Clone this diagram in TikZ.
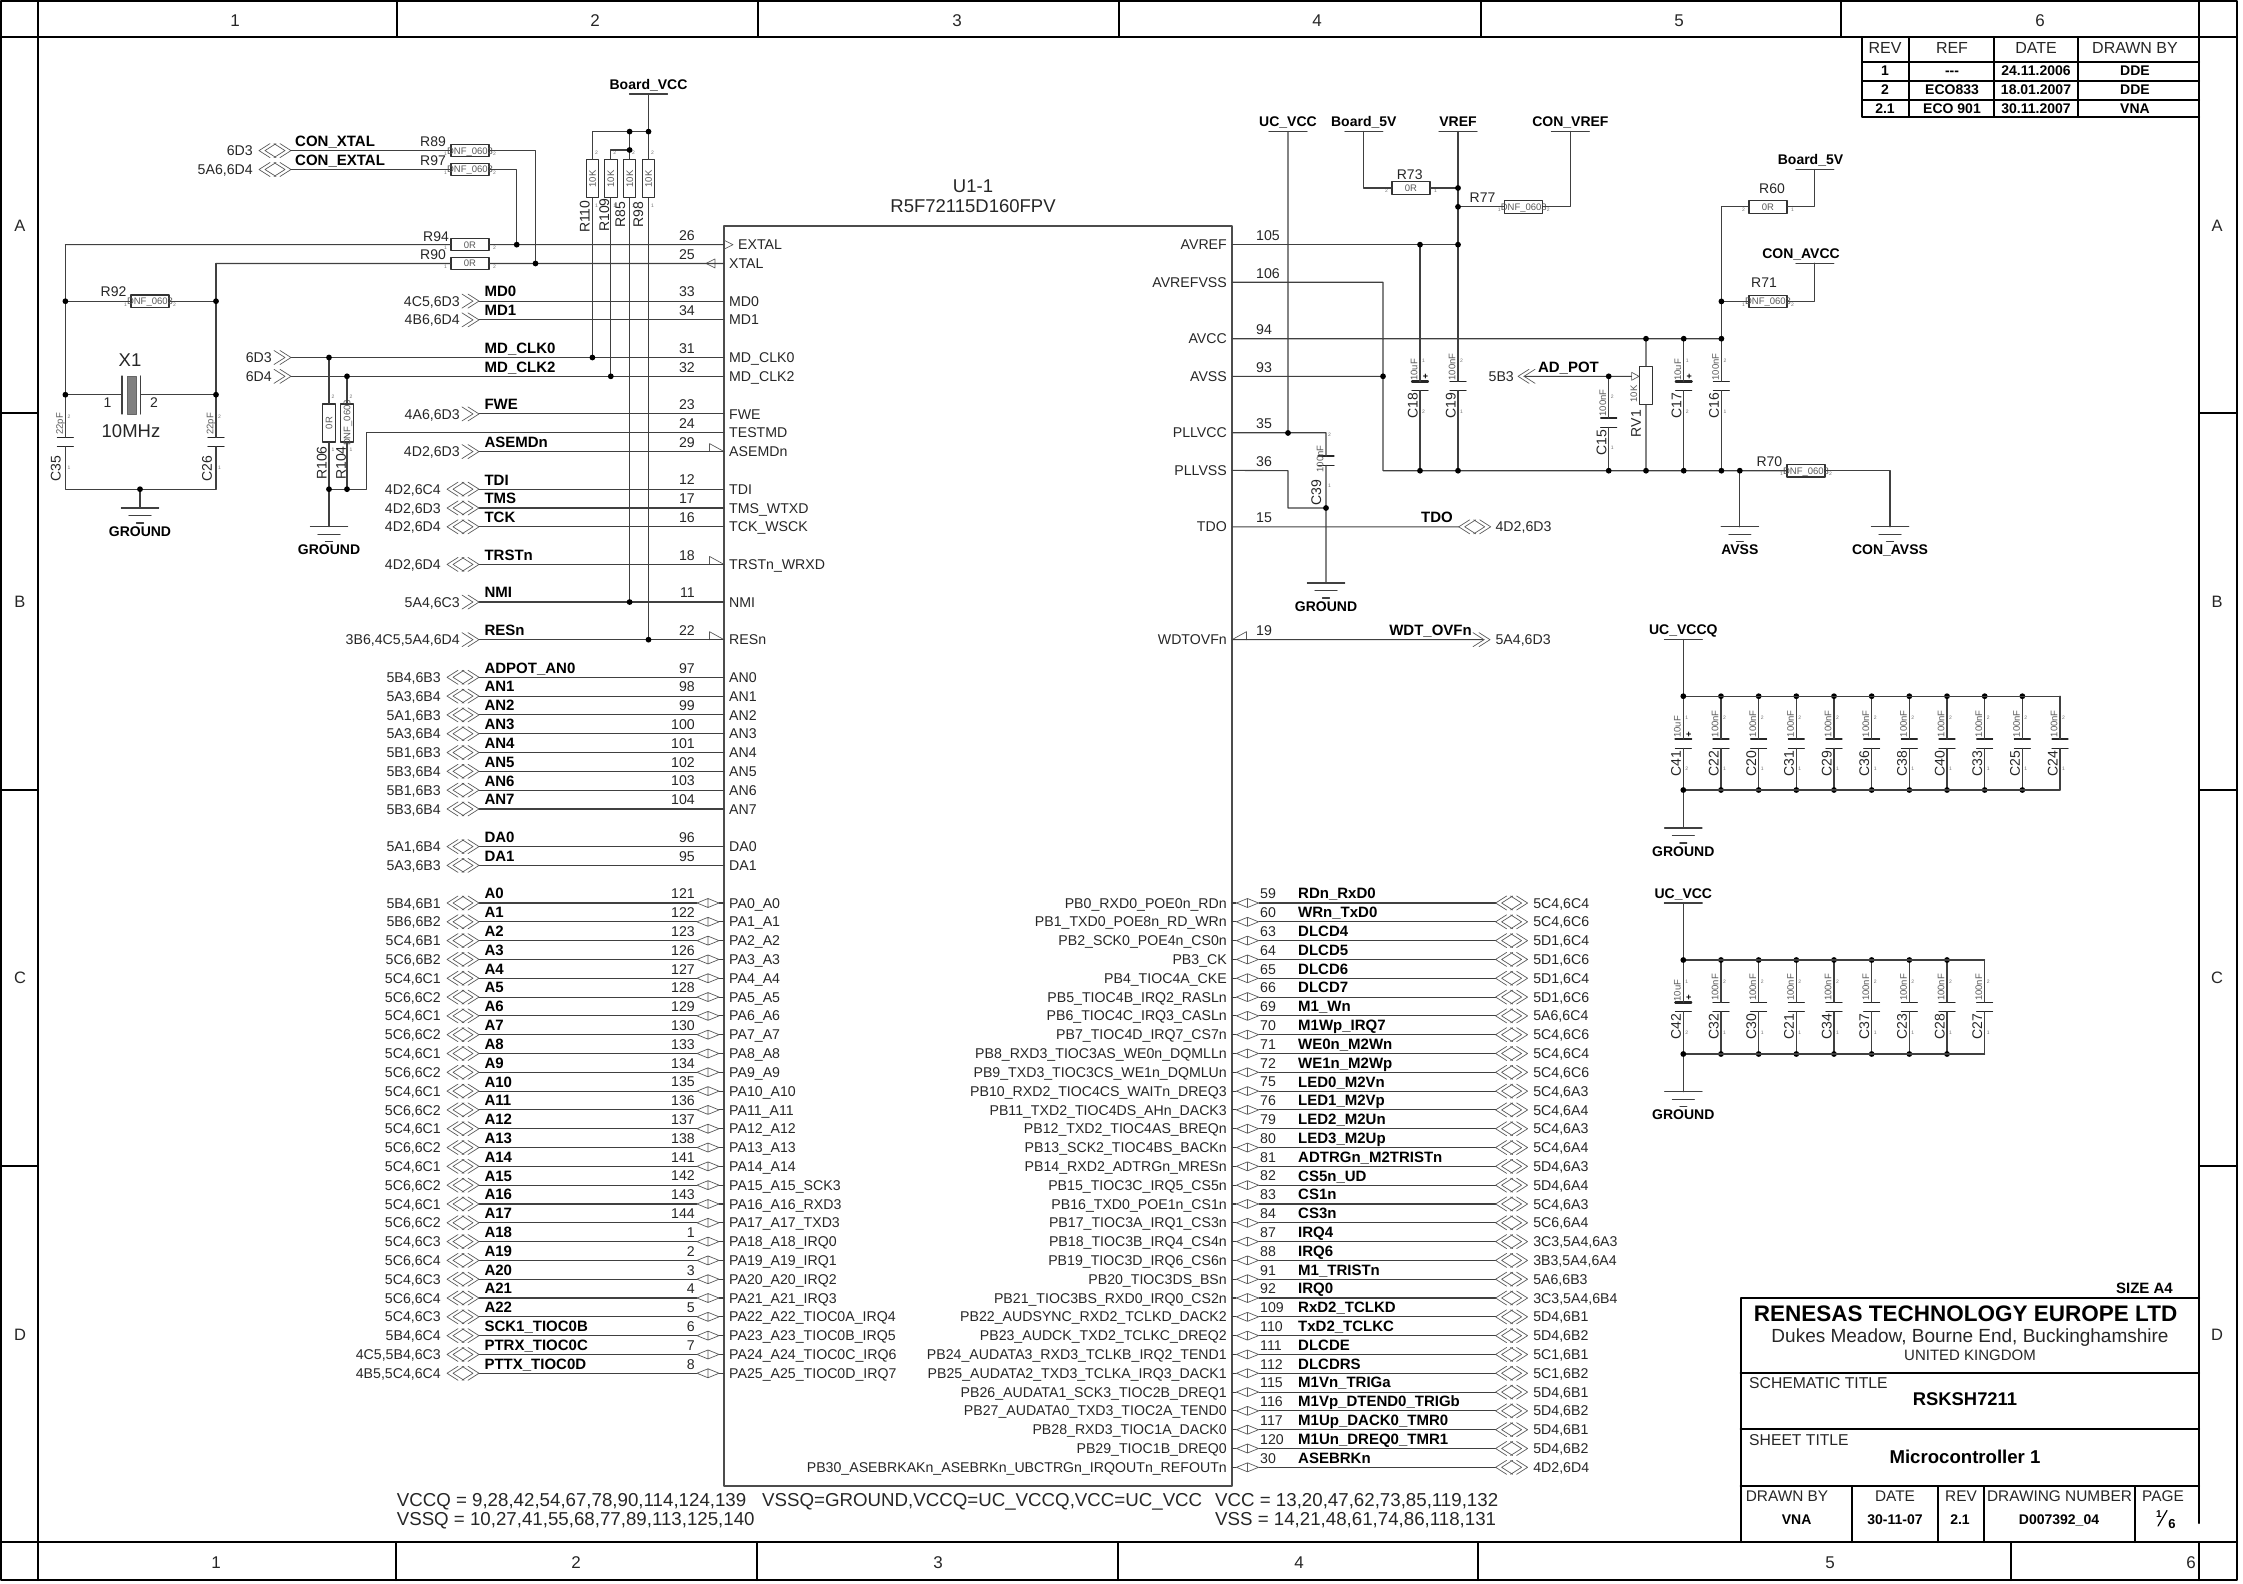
\documentclass[tikz,border=0pt]{standalone}
\usepackage{fontspec}
\setmainfont{Liberation Sans}
\newcommand{\fs}[1]{\fontsize{#1}{#1}\selectfont}
\tikzset{
	wire/.style={line width=1.1pt,draw=black!75},
	frame/.style={line width=2pt,draw=black},
	symb/.style={line width=.7pt,draw=black!65},
	tx/.style={inner sep=0pt,font=\fs{#1},text height=#1*0.72pt,text depth=0pt,text=black!85},
	txb/.style={tx=#1,font=\bfseries\fs{#1},text=black},
	pintxt/.style={tx=14.15},
	netlbl/.style={txb=15},
	pwrlbl/.style={txb=14},
	valtxt/.style={tx=9.5,text=black!65},
	tinytxt/.style={tx=5,text=black!55},
	resb/.style={draw=black!80,line width=1.1pt,rectangle,minimum width=38,minimum height=12.5,inner sep=0pt},
	pics/portio/.style={code={\draw[symb] (-21,-7)--(-32,0)--(-21,7) (-15,-7)--(-26,0)--(-15,7) (-11,-7)--(0,0)--(-11,7) (-17,-7)--(-6,0)--(-17,7);}},
	pics/portin/.style={code={\draw[symb] (-11,-7)--(0,0)--(-11,7) (-17,-7)--(-6,0)--(-17,7);}},
	pics/bimark/.style={code={\draw[symb] (0,-4.5)--(-11,0)--(0,4.5)--cycle (0,-4.5)--(11,0)--(0,4.5)--cycle;}},
	pics/wedge/.style={code={\draw[symb] (-14.5,0)--(-14.5,-8)--(0,0);}},
	pics/tin/.style={code={\draw[symb] (0,-4.5)--(9,0)--(0,4.5);}},
	pics/tout/.style={code={\draw[symb] (-9,-4.5)--(-18,0)--(-9,4.5)--cycle;}},
}
\newcommand{\toppin}{2}
\newcommand{\botpin}{1}
\newcommand{\respa}{1}
\newcommand{\respb}{2}
\newcommand{\pinleft}[3]{\pgfmathsetmacro\py{244.65+18.81*#1}
	\coordinate (c#2) at (724,\py);
	\node[pintxt,anchor=west] (t#2) at (729,\py) {#3};
	\node[pintxt,anchor=east] (n#2) at (695,\py-9.3) {#2};}
\newcommand{\pinright}[4]{\pgfmathsetmacro\py{244.65+18.81*#1}
	\coordinate (c#2) at (1232,\py);
	\node[pintxt,anchor=east] (t#2) at (1227,\py) {#3};
	\node[pintxt,anchor=west] (n#2) at (#4,\py-9.3) {#2};}
\newcommand{\resh}[6]{\node[resb] (#1) at (#2,#3) {};
	\node[valtxt] (#1v) at (#1) {#4};
	\node[tx=14] (#1n) at (#5,#6) {#1};
	\node[tinytxt] (#1pa) at ([xshift=-5pt,yshift=-3pt]#1.west) {\respa};
	\node[tinytxt] (#1pb) at ([xshift=5pt,yshift=-3pt]#1.east) {\respb};}
\newcommand{\resv}[6]{\node[resb,rotate=90] (#1) at (#2,#3) {};
	\node[valtxt,rotate=90] (#1v) at (#1) {#4};
	\node[tx=14,rotate=90] (#1n) at (#5,#6) {#1};
	\node[tinytxt] (#1pa) at ([xshift=4pt,yshift=-7pt]#1.west) {1};
	\node[tinytxt] (#1pb) at ([xshift=4pt,yshift=7pt]#1.east) {2};}
\newcommand{\capv}[7][7.5]{\coordinate (#2a) at (#3,#4);
	\coordinate (#2b) at (#3,#4+9.3);
	\draw[symb,draw=black!85,line width=1.1pt] (#3-8,#4)--(#3+8,#4) (#3-8,#4+9.3)--(#3+8,#4+9.3);
	\node[valtxt,rotate=90] (#2v) at (#3-6,#6) {#5};
	\node[tx=14,rotate=90] (#2n) at (#3-#1,#7) {#2};
	\node[tinytxt] (#2pa) at (#3+3.5,#4-21) {\toppin};
	\node[tinytxt] (#2pb) at (#3+3.5,#4+30) {\botpin};}
\newcommand{\capp}[6]{{\def\toppin{1}\def\botpin{2}\capv{#1}{#2}{#3}{#4}{#5}{#6}}
	\draw[line width=2.2pt,draw=black!85] (#2-8,#3)--(#2+8,#3);
	\node[txb=9] (#1plus) at (#2+5.5,#3-5) {+};}
\newcommand{\gnd}[4]{\coordinate (#1) at (#2,#3);
	\draw[wire] (#2-18.7,#3)--(#2+18.7,#3) (#2-11,#3+7.5)--(#2+11,#3+7.5) (#2-3.5,#3+15)--(#2+3.5,#3+15);
	\node[pwrlbl] (#1t) at (#2,#3+23) {#4};}
\newcommand{\pwr}[5]{\coordinate (#1) at (#2,#3);
	\draw[wire] (#2-19,#3)--(#2+19,#3);
	\node[pwrlbl] (#1t) at (#5,#3-9.5) {#4};}
\begin{document}
\catcode`\_=12
\begin{tikzpicture}[x=1pt,y=-1pt,line join=round,line cap=round]
	\useasboundingbox (0,0) rectangle (2243,1584);
	% sheet frame
	\draw[frame] (1,1) rectangle (2237,1580);
	\draw[frame] (38,1)--(38,1580) (1,37)--(2237,37) (1,1542)--(2237,1542) (2199,1)--(2199,1523) (2199,1542)--(2199,1580);
	\foreach \cx in {397,758,1119,1481,1841} \draw[frame] (\cx,1)--(\cx,37);
	\foreach \cx in {396,757,1118,1478,2011} \draw[frame] (\cx,1542)--(\cx,1580);
	\foreach \cy in {413,790,1166} \draw[frame] (1,\cy)--(38,\cy) (2199,\cy)--(2237,\cy);
	\foreach \cx/\ct in {235/1,595/2,957/3,1317/4,1679/5,2040/6} \node[tx=17] (top\ct) at (\cx,20) {\ct};
	\foreach \cx/\ct in {216/1,576/2,938/3,1299/4,1830/5,2191/6} \node[tx=17] (bot\ct) at (\cx,1562) {\ct};
	\foreach \cy/\ct in {226/A,602/B,978/C,1335/D} {\node[tx=16.5] (le\ct) at (20,\cy) {\ct};\node[tx=16.5] (ri\ct) at (2217,\cy) {\ct};}
	% revision table
	\draw[frame] (1862,37)--(1862,117)--(2199,117) (1862,62)--(2199,62) (1862,81)--(2199,81) (1862,100)--(2199,100);
	\foreach \cx in {1909,1994,2078} \draw[frame] (\cx,37)--(\cx,117);
	\foreach \cx/\ct [count=\ci] in {1885/REV,1952/REF,2036/DATE,2135/DRAWN BY} \node[tx=16] (rev\ci) at (\cx,48) {\ct};
	\foreach \cy/\ca/\cb/\cc/\cd [count=\ci] in {70/1/-{}-{}-/24.11.2006/DDE,89/2/ECO833/18.01.2007/DDE,108/2.1/ECO 901/30.11.2007/VNA} {
		\node[txb=14] (ra\ci) at (1885,\cy) {\ca};\node[txb=14] (rb\ci) at (1952,\cy) {\cb};\node[txb=14] (rc\ci) at (2036,\cy) {\cc};\node[txb=14] (rd\ci) at (2135,\cy) {\cd};}
	% title block
	\draw[frame] (1740.5,1542)--(1740.5,1298)--(2199,1298) (1740.5,1373)--(2199,1373) (1740.5,1429)--(2199,1429) (1740.5,1486)--(2199,1486);
	\foreach \cx in {1852,1937.5,1984,2135} \draw[frame] (\cx,1486)--(\cx,1542);
	\node[txb=15,anchor=east] (tbsize) at (2173,1288) {SIZE A4};
	\node[txb=22.5] (tbco) at (1965.6,1313) {RENESAS TECHNOLOGY EUROPE LTD};
	\node[tx=19] (tbad) at (1970,1336) {Dukes Meadow, Bourne End, Buckinghamshire};
	\node[tx=15] (tbuk) at (1970,1355) {UNITED KINGDOM};
	\node[tx=15.7,anchor=west] (tbst) at (1749,1383) {SCHEMATIC TITLE};
	\node[txb=18.4] (tbsv) at (1965,1399) {RSKSH7211};
	\node[tx=15.7,anchor=west] (tbsh) at (1749,1440) {SHEET TITLE};
	\node[txb=18.6] (tbmc) at (1965,1457) {Microcontroller 1};
	\foreach \cx/\ca [count=\ci] in {1787/DRAWN BY,1895/DATE,1961/REV,2059.5/DRAWING NUMBER,2163/PAGE} \node[tx=15.4] (tbh\ci) at (\cx,1496) {\ca};
	\foreach \cx/\ca [count=\ci] in {1796.6/VNA,1895/30-11-07,1960/2.1,2059/D007392_04} \node[txb=14] (tbv\ci) at (\cx,1519) {\ca};
	\node[txb=10] (pgn) at (2159,1514) {1};\node[txb=13] (pgd) at (2172,1524) {6};
	\draw[line width=1.2pt] (2158,1526)--(2167,1510.5);
	% device
	\node[draw=black!70,line width=1.2pt,minimum width=508,minimum height=1260,inner sep=0pt] (U1) at (978,856) {};
	\node[tx=18.5] (U1a) at (973,186) {U1-1};
	\node[tx=18.5] (U1b) at (973,206) {R5F72115D160FPV};
	\foreach \pk/\pnum/\plab in {1/25/XTAL,3/33/MD0,4/34/MD1,6/31/MD_CLK0,7/32/MD_CLK2,9/23/FWE,10/24/TESTMD,11/29/ASEMDn,13/12/TDI,14/17/TMS_WTXD,15/16/TCK_WSCK,17/18/TRSTn_WRXD,19/11/NMI,21/22/RESn,23/97/AN0,24/98/AN1,25/99/AN2,26/100/AN3,27/101/AN4,28/102/AN5,29/103/AN6,30/104/AN7,32/96/DA0,33/95/DA1} \pinleft{\pk}{\pnum}{\plab};
	\pinleft{0}{26}{}
	\node[pintxt,anchor=west] (t26x) at (738,244.65) {EXTAL};
	\foreach \pk/\pnum/\plab in {0/105/AVREF,2/106/AVREFVSS,5/94/AVCC,7/93/AVSS,10/35/PLLVCC,12/36/PLLVSS,15/15/TDO,21/19/WDTOVFn} \pinright{\pk}{\pnum}{\plab}{1256};
	\pic at (c26) {tin};\pic at (c25) {tout};\pic at (c29) {wedge};\pic at (c18) {wedge};\pic at (c22) {wedge};\pic[xscale=-1] at (c19) {wedge};
	\coordinate (xP) at (479,0);\coordinate (xA) at (697,0);\coordinate (xB) at (719,0);\coordinate (xC) at (1495.6,0);\coordinate (xD) at (1259,0);\coordinate (xE) at (1236,0);
	% left nets
	\foreach \pnum/\pnet/\pref in {33/MD0/{4C5,6D3},34/MD1/{4B6,6D4},23/FWE/{4A6,6D3},29/ASEMDn/{4D2,6D3},11/NMI/{5A4,6C3},22/RESn/{3B6,4C5,5A4,6D4}} {
		\coordinate (p\pnum) at (c\pnum -| xP);\draw[wire] (p\pnum)--(c\pnum);\pic at (p\pnum) {portin};
		\node[netlbl,anchor=west] (w\pnum) at ([xshift=5.3pt,yshift=9.5pt]p\pnum) {\pnet};
		\node[pintxt,anchor=east] (r\pnum) at ([xshift=-19pt]p\pnum) {\pref};}
	\foreach \pnum/\pnet/\pref in {12/TDI/{4D2,6C4},17/TMS/{4D2,6D3},16/TCK/{4D2,6D4},18/TRSTn/{4D2,6D4},97/ADPOT_AN0/{5B4,6B3},98/AN1/{5A3,6B4},99/AN2/{5A1,6B3},100/AN3/{5A3,6B4},101/AN4/{5B1,6B3},102/AN5/{5B3,6B4},103/AN6/{5B1,6B3},104/AN7/{5B3,6B4},96/DA0/{5A1,6B4},95/DA1/{5A3,6B3}} {
		\coordinate (p\pnum) at (c\pnum -| xP);\draw[wire] (p\pnum)--(c\pnum);\pic at (p\pnum) {portio};
		\node[netlbl,anchor=west] (w\pnum) at ([xshift=5.3pt,yshift=9.5pt]p\pnum) {\pnet};
		\node[pintxt,anchor=east] (r\pnum) at ([xshift=-38pt]p\pnum) {\pref};}
	\foreach \pnum/\pnet/\pref/\plab [count=\prow from 35] in {121/A0/{5B4,6B1}/PA0_A0,122/A1/{5B6,6B2}/PA1_A1,123/A2/{5C4,6B1}/PA2_A2,126/A3/{5C6,6B2}/PA3_A3,127/A4/{5C4,6C1}/PA4_A4,128/A5/{5C6,6C2}/PA5_A5,129/A6/{5C4,6C1}/PA6_A6,130/A7/{5C6,6C2}/PA7_A7,133/A8/{5C4,6C1}/PA8_A8,134/A9/{5C6,6C2}/PA9_A9,135/A10/{5C4,6C1}/PA10_A10,136/A11/{5C6,6C2}/PA11_A11,137/A12/{5C4,6C1}/PA12_A12,138/A13/{5C6,6C2}/PA13_A13,141/A14/{5C4,6C1}/PA14_A14,142/A15/{5C6,6C2}/PA15_A15_SCK3,143/A16/{5C4,6C1}/PA16_A16_RXD3,144/A17/{5C6,6C2}/PA17_A17_TXD3,1/A18/{5C4,6C3}/PA18_A18_IRQ0,2/A19/{5C6,6C4}/PA19_A19_IRQ1,3/A20/{5C4,6C3}/PA20_A20_IRQ2,4/A21/{5C6,6C4}/PA21_A21_IRQ3,5/A22/{5C4,6C3}/PA22_A22_TIOC0A_IRQ4,6/SCK1_TIOC0B/{5B4,6C4}/PA23_A23_TIOC0B_IRQ5,7/PTRX_TIOC0C/{4C5,5B4,6C3}/PA24_A24_TIOC0C_IRQ6,8/PTTX_TIOC0D/{4B5,5C4,6C4}/PA25_A25_TIOC0D_IRQ7} {
		\pinleft{\prow}{\pnum}{\plab}
		\coordinate (p\pnum) at (c\pnum -| xP);\coordinate (ma\pnum) at (c\pnum -| xA);\coordinate (mb\pnum) at (c\pnum -| xB);
		\draw[wire] (p\pnum)--(ma\pnum) (mb\pnum)--(c\pnum);\pic at (p\pnum) {portio};\pic at ([xshift=11pt]ma\pnum) {bimark};
		\node[netlbl,anchor=west] (w\pnum) at ([xshift=5.3pt,yshift=9.5pt]p\pnum) {\pnet};
		\node[pintxt,anchor=east] (r\pnum) at ([xshift=-38pt]p\pnum) {\pref};}
	% right nets
	\foreach \pnum/\pnet/\pref/\plab [count=\prow from 35] in {59/RDn_RxD0/{5C4,6C4}/PB0_RXD0_POE0n_RDn,60/WRn_TxD0/{5C4,6C6}/PB1_TXD0_POE8n_RD_WRn,63/DLCD4/{5D1,6C4}/PB2_SCK0_POE4n_CS0n,64/DLCD5/{5D1,6C6}/PB3_CK,65/DLCD6/{5D1,6C4}/PB4_TIOC4A_CKE,66/DLCD7/{5D1,6C6}/PB5_TIOC4B_IRQ2_RASLn,69/M1_Wn/{5A6,6C4}/PB6_TIOC4C_IRQ3_CASLn,70/M1Wp_IRQ7/{5C4,6C6}/PB7_TIOC4D_IRQ7_CS7n,71/WE0n_M2Wn/{5C4,6C4}/PB8_RXD3_TIOC3AS_WE0n_DQMLLn,72/WE1n_M2Wp/{5C4,6C6}/PB9_TXD3_TIOC3CS_WE1n_DQMLUn,75/LED0_M2Vn/{5C4,6A3}/PB10_RXD2_TIOC4CS_WAITn_DREQ3,76/LED1_M2Vp/{5C4,6A4}/PB11_TXD2_TIOC4DS_AHn_DACK3,79/LED2_M2Un/{5C4,6A3}/PB12_TXD2_TIOC4AS_BREQn,80/LED3_M2Up/{5C4,6A4}/PB13_SCK2_TIOC4BS_BACKn,81/ADTRGn_M2TRISTn/{5D4,6A3}/PB14_RXD2_ADTRGn_MRESn,82/CS5n_UD/{5D4,6A4}/PB15_TIOC3C_IRQ5_CS5n,83/CS1n/{5C4,6A3}/PB16_TXD0_POE1n_CS1n,84/CS3n/{5C6,6A4}/PB17_TIOC3A_IRQ1_CS3n,87/IRQ4/{3C3,5A4,6A3}/PB18_TIOC3B_IRQ4_CS4n,88/IRQ6/{3B3,5A4,6A4}/PB19_TIOC3D_IRQ6_CS6n,91/M1_TRISTn/{5A6,6B3}/PB20_TIOC3DS_BSn,92/IRQ0/{3C3,5A4,6B4}/PB21_TIOC3BS_RXD0_IRQ0_CS2n,109/RxD2_TCLKD/{5D4,6B1}/PB22_AUDSYNC_RXD2_TCLKD_DACK2,110/TxD2_TCLKC/{5D4,6B2}/PB23_AUDCK_TXD2_TCLKC_DREQ2,111/DLCDE/{5C1,6B1}/PB24_AUDATA3_RXD3_TCLKB_IRQ2_TEND1,112/DLCDRS/{5C1,6B2}/PB25_AUDATA2_TXD3_TCLKA_IRQ3_DACK1,115/M1Vn_TRIGa/{5D4,6B1}/PB26_AUDATA1_SCK3_TIOC2B_DREQ1,116/M1Vp_DTEND0_TRIGb/{5D4,6B2}/PB27_AUDATA0_TXD3_TIOC2A_TEND0,117/M1Up_DACK0_TMR0/{5D4,6B1}/PB28_RXD3_TIOC1A_DACK0,120/M1Un_DREQ0_TMR1/{5D4,6B2}/PB29_TIOC1B_DREQ0,30/ASEBRKn/{4D2,6D4}/PB30_ASEBRKAKn_ASEBRKn_UBCTRGn_IRQOUTn_REFOUTn} {
		\pinright{\prow}{\pnum}{\plab}{1260}
		\coordinate (q\pnum) at (c\pnum -| xC);\coordinate (ma\pnum) at (c\pnum -| xD);\coordinate (mb\pnum) at (c\pnum -| xE);
		\draw[wire] (ma\pnum)--(q\pnum) (c\pnum)--(mb\pnum);\pic at ([xshift=32pt]q\pnum) {portio};\pic at ([xshift=11.5pt]mb\pnum) {bimark};
		\node[netlbl,anchor=west] (w\pnum) at ([xshift=39pt,yshift=9.5pt]ma\pnum) {\pnet};
		\node[pintxt,anchor=west] (r\pnum) at ([xshift=37.5pt]q\pnum) {\pref};}
	% crystal and mode resistors
	\coordinate (pXT) at (291,150.6);\coordinate (pEX) at (291,169.5);
	\pic at (pXT) {portio};\pic at (pEX) {portio};
	\node[pintxt,anchor=east] (rXT) at (253,150.6) {6D3};\node[pintxt,anchor=east] (rEX) at (253,169.5) {5A6,6D4};
	\node[netlbl,anchor=west] (wXT) at (295,141) {CON_XTAL};\node[netlbl,anchor=west] (wEX) at (295,160) {CON_EXTAL};
	\resh{R89}{470}{150.6}{DNF_0603}{433}{141}
	\resh{R97}{470}{169.5}{DNF_0603}{433}{160}
	\resh{R94}{470}{244.65}{0R}{436}{236.5}
	\resh{R90}{470}{263.46}{0R}{433}{254.6}
	\resh{R92}{150}{301.2}{DNF_0603}{113.5}{291}
	\coordinate (jXT) at (535.5,263.46);\coordinate (jEX) at (516.7,244.65);\coordinate (jL0) at (65.4,244.65);\coordinate (jR0) at (216,263.46);
	\coordinate (jL1) at (65.4,301.2);\coordinate (jR1) at (216,301.2);\coordinate (jL2) at (65.4,394.7);\coordinate (jR2) at (216,394.7);
	\coordinate (bL) at (65.4,489.2);\coordinate (bR) at (216,489.2);\coordinate (jB) at (140,489.2);
	\coordinate (X1a) at (122,394.7);\coordinate (X1b) at (140.6,394.7);
	\draw[wire] (pXT)--(R89.west) (R89.east)-|(jXT) (pEX)--(R97.west) (R97.east)-|(jEX);
	\draw[wire] (jL0)--(R94.west) (R94.east)--(c26) (jR0)--(R90.west) (R90.east)--(c25);
	\draw[wire] (jL1)--(R92.west) (R92.east)--(jR1) (jL2)--(X1a) (X1b)--(jR2);
	\node[fill=black!50,draw=black!60,minimum width=9.5,minimum height=38,inner sep=0pt] (X1) at (131.7,395) {};
	\draw[wire] (122,376)--(122,414) (140.6,376)--(140.6,414);
	\node[tx=18.5] (X1n) at (130,360) {X1};\node[tx=18.5] (X1v) at (131,431) {10MHz};
	\node[tx=14] (X1p) at (107.6,402.6) {1};\node[tx=14] (X1q) at (154,402.6) {2};
	\capv[9.7]{C35}{65.4}{437.4}{22pF}{424}{468.7}
	\capv[9.2]{C26}{216}{437.4}{22pF}{424}{468.7}
	\draw[wire] (jL0)--(C35a) (jR0)--(C26a) (C35b)--(bL)--(bR)--(C26b);
	\gnd{gX}{140}{508}{GROUND}
	\draw[wire] (jB)--(gX);
	\pwr{BVCC}{648.5}{94}{Board_VCC}{648.5}
	\resv{R110}{592.4}{178.9}{10K}{584.6}{216.7}
	\resv{R109}{610.8}{178.9}{10K}{604}{215}
	\resv{R85}{629.6}{178.9}{10K}{620}{215}
	\resv{R98}{648.5}{178.9}{10K}{638}{215}
	\coordinate (jT1) at (629.6,131.6);\coordinate (jT2) at (648.5,131.6);\coordinate (jT3) at (629.6,150);
	\coordinate (j110) at (R110 |- c31);\coordinate (j109) at (R109 |- c32);\coordinate (j85) at (R85 |- c11);\coordinate (j98) at (R98 |- c22);
	\draw[wire] (BVCC)--(R98.east) (R110.east)|-(jT2) (R109.east)|-(jT3) (jT1)--(R85.east);
	\draw[wire] (R110.west)--(j110) (R109.west)--(j109) (R85.west)--(j85) (R98.west)--(j98);
	\coordinate (p31) at (c31 -| 291,0);\coordinate (p32) at (c32 -| 291,0);
	\draw[wire] (p31)--(c31) (p32)--(c32);\pic at (p31) {portin};\pic at (p32) {portin};
	\node[pintxt,anchor=east] (r31) at ([xshift=-19pt]p31) {6D3};\node[pintxt,anchor=east] (r32) at ([xshift=-19pt]p32) {6D4};
	\node[netlbl,anchor=west] (w31) at (484.5,348) {MD_CLK0};\node[netlbl,anchor=west] (w32) at (484.5,366.8) {MD_CLK2};
	\resv{R106}{329}{423}{0R}{321.5}{463}
	\resv{R104}{347}{423}{DNF_0603}{340.8}{463}
	\coordinate (j106) at (R106 |- c31);\coordinate (j104) at (R104 |- c32);
	\coordinate (j106b) at (329,489.2);\coordinate (j104b) at (347,489.2);\coordinate (kT) at (366.5,489.2);
	\gnd{gR}{329}{526.6}{GROUND}
	\draw[wire] (j106)--(R106.east) (j104)--(R104.east) (R106.west)--(gR) (R104.west)--(j104b) (j106b)--(kT)|-(c24);
	% analog supply
	\pwr{UCVCC}{1288}{131.4}{UC_VCC}{1288}
	\pwr{BFIVEa}{1363.8}{131.4}{Board_5V}{1363.8}
	\pwr{VREF}{1458}{131.4}{VREF}{1458}
	\pwr{CONVREF}{1570.4}{131.4}{CON_VREF}{1570.4}
	\pwr{BFIVEb}{1814.8}{169.3}{Board_5V}{1810.5}
	\pwr{CONAVCC}{1814.8}{263.2}{CON_AVCC}{1801}
	{\def\respa{2}\def\respb{1}
	\resh{R73}{1411}{188}{0R}{1409.7}{174}
	\resh{R60}{1768}{206.8}{0R}{1772}{188.6}}
	\resh{R77}{1523.8}{206.8}{DNF_0603}{1482.5}{197.5}
	\resh{R71}{1768}{301.4}{DNF_0603}{1764}{282}
	\resh{R70}{1806}{470.7}{DNF_0603}{1769.4}{461.4}
	\coordinate (jR73) at (1458,188);\coordinate (jR77) at (1458,206.8);\coordinate (jAr1) at (1420,244.65);\coordinate (jAr2) at (1458,244.65);
	\coordinate (jAvss) at (1383,376.32);\coordinate (busL) at (1383,470.7);
	\foreach \jn/\jx in {jB18/1420,jB19/1458,jB15/1608.7,jRV/1646,jB17/1683.7,jB16/1721.4,jAV/1739.8} \coordinate (\jn) at (\jx,470.7);
	\foreach \jn/\jx in {jRVt/1646,jA17/1683.7,jA16/1721.4} \coordinate (\jn) at (\jx,338.7);
	\coordinate (jR71) at (1721.4,301.4);\coordinate (jPot) at (1608.7,376.32);\coordinate (wiper) at (1631.6,376.32);\coordinate (pPot) at (1524,376.32);
	\capp{C18}{1420}{381.4}{10uF}{370}{406}
	\capv{C19}{1458}{381.4}{100nF}{367}{406}
	\capv{C15}{1608.7}{418}{100nF}{403}{443}
	\capp{C17}{1683.7}{381.4}{10uF}{370}{406}
	\capv{C16}{1721.4}{381.4}{100nF}{367}{406}
	\node[resb,rotate=90] (RV1) at (1646,385.5) {};
	\node[valtxt,rotate=90] (RV1v) at (1633.7,394) {10K};\node[tx=14,rotate=90] (RV1n) at (1635.7,423.6) {RV1};
	\draw[symb] (1631.6,372.3)--(1639,376.32)--(1631.6,380.3)--cycle;
	\draw[wire] (BFIVEa)|-(R73.west) (R73.east)--(jR73) (VREF)--(C19a) (jR77)--(R77.west) (R77.east)-|(CONVREF) (c105)--(jAr2);
	\draw[wire] (jAr1)--(C18a) (C18b)--(jB18) (C19b)--(jB19) (jPot)--(C15a) (C15b)--(jB15) (jA17)--(C17a) (C17b)--(jB17) (jA16)--(C16a) (C16b)--(jB16);
	\draw[wire] (jRVt)--(RV1.east) (RV1.west)--(jRV) (c94)--(jA16) (c93)--(jAvss) (c106)-|(busL)--(R70.west) (pPot)--(wiper);
	\draw[wire] (jA16)|-(R60.west) (R60.east)-|(BFIVEb) (jR71)--(R71.west) (R71.east)-|(CONAVCC);
	\pic[xscale=-1] at (1518,376.32) {portin};
	\node[pintxt,anchor=east] (r5B3) at (1514,376.32) {5B3};\node[netlbl,anchor=west] (wPot) at (1537.8,367) {AD_POT};
	\gnd{gAVSS}{1739.8}{526.8}{AVSS}
	\gnd{gCAVSS}{1890}{526.8}{CON_AVSS}
	\draw[wire] (jAV)--(gAVSS) (R70.east)-|(gCAVSS);
	% pll and debug
	\coordinate (jPV) at (1288,432.96);\coordinate (kP) at (1288,470.7);\coordinate (jP39) at (1326,508);
	\capv[10]{C39}{1326}{456}{100nF}{459}{493}
	\gnd{gC39}{1326}{583}{GROUND}
	\draw[wire] (UCVCC)--(jPV) (c35)-|(C39a) (C39b)--(gC39) (c36)--(kP)|-(jP39);
	\coordinate (pTDO) at (1458.7,526.8);\coordinate (pWDT) at (1484,639.66);
	\draw[wire] (c15)--(pTDO) (c19)--(pWDT);
	\pic at (1490.7,526.8) {portio};\pic at (1490,639.66) {portin};
	\node[pintxt,anchor=west] (rTDO) at (1495.4,526.8) {4D2,6D3};\node[pintxt,anchor=west] (rWDT) at (1495.4,639.66) {5A4,6D3};
	\node[netlbl,anchor=east] (wTDO) at (1453,517) {TDO};\node[netlbl,anchor=east] (wWDT) at (1472,630) {WDT_OVFn};
	% decoupling banks
	\pwr{VQ}{1683.3}{639.3}{UC_VCCQ}{1683.3}
	\gnd{gQ}{1683.3}{828}{GROUND}
	\capp{C41}{1683.3}{739}{10uF}{727}{763.4}
	\coordinate (tQ0) at (1683.3,696.2);\coordinate (bQ0) at (1683.3,790);
	\draw[wire] (VQ)--(tQ0)--(C41a) (C41b)--(bQ0)--(gQ);
	\foreach \cn [count=\ci] in {C22,C20,C31,C29,C36,C38,C40,C33,C25,C24} {\pgfmathsetmacro\cx{1683.3+37.67*\ci}
		\capv{\cn}{\cx}{739}{100nF}{723.8}{763.4}
		\coordinate (tQ\ci) at (\cx,696.2);\coordinate (bQ\ci) at (\cx,790);
		\draw[wire] (tQ\ci)--(\cn a) (\cn b)--(bQ\ci);
		\ifnum\ci<10 \fill (tQ\ci) circle (2.9);\fill (bQ\ci) circle (2.9);\fi}
	\draw[wire] (tQ0)--(tQ10)  (bQ0)--(bQ10);
	\pwr{VC}{1683.3}{903}{UC_VCC}{1683.3}
	\gnd{gC}{1683.3}{1091.7}{GROUND}
	\capp{C42}{1683.3}{1002.4}{10uF}{990.5}{1027}
	\coordinate (tC0) at (1683.3,960);\coordinate (bC0) at (1683.3,1054);
	\draw[wire] (VC)--(tC0)--(C42a) (C42b)--(bC0)--(gC);
	\foreach \cn [count=\ci] in {C32,C30,C21,C34,C37,C23,C28,C27} {\pgfmathsetmacro\cx{1683.3+37.67*\ci}
		\capv{\cn}{\cx}{1002.4}{100nF}{987.5}{1027}
		\coordinate (tC\ci) at (\cx,960);\coordinate (bC\ci) at (\cx,1054);
		\draw[wire] (tC\ci)--(\cn a) (\cn b)--(bC\ci);
		\ifnum\ci<8 \fill (tC\ci) circle (2.9);\fill (bC\ci) circle (2.9);\fi}
	\draw[wire] (tC0)--(tC8) (bC0)--(bC8);
	% junction dots
	\foreach \jn in {jXT,jEX,jL1,jR1,jL2,jR2,jB,jT1,jT2,jT3,j110,j109,j85,j98,j106,j104,j106b,j104b,jR73,jR77,jAr1,jAr2,jAvss,jB18,jB19,jB15,jRV,jB17,jB16,jAV,jRVt,jA17,jA16,jR71,jPot,jPV,jP39,tQ0,bQ0,tC0,bC0} \fill (\jn) circle (2.9);
	% supply notes
	\node[tx=18.7,anchor=west] (nt1) at (396.6,1500) {VCCQ = 9,28,42,54,67,78,90,114,124,139};
	\node[tx=18.7,anchor=west] (nt2) at (396.6,1519) {VSSQ = 10,27,41,55,68,77,89,113,125,140};
	\node[tx=18.7,anchor=west] (nt3) at (762,1500) {VSSQ=GROUND,VCCQ=UC_VCCQ,VCC=UC_VCC};
	\node[tx=18.7,anchor=west] (nt4) at (1215,1500) {VCC = 13,20,47,62,73,85,119,132};
	\node[tx=18.7,anchor=west] (nt5) at (1215,1519) {VSS = 14,21,48,61,74,86,118,131};
\end{tikzpicture}
\end{document}
